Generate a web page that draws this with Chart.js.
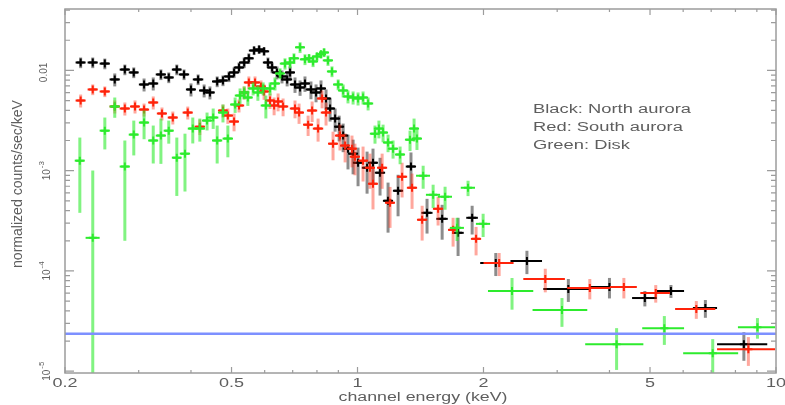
<!DOCTYPE html>
<html>
<head>
<meta charset="utf-8">
<script src="https://cdn.jsdelivr.net/npm/chart.js@4.4.0/dist/chart.umd.min.js"></script>
<style>
  html, body { margin: 0; padding: 0; background: #fff; }
  #wrap { width: 785px; height: 405px; position: relative; }
</style>
</head>
<body>
<div id="wrap"><canvas id="c" width="785" height="405"></canvas></div>
<script>
// ---- North aurora (black): channel energy (keV), half bin width, counts/s/keV, 1-sigma error
const northE = [0.218,0.233,0.249,0.263,0.278,0.292,0.309,0.325,0.339,0.354,0.370,0.385,0.400,0.416,0.430,0.444,0.462,0.477,0.493,0.507,0.521,0.536,0.550,0.566,0.582,0.598,0.611,0.625,0.642,0.660,0.679,0.690,0.709,0.729,0.749,0.774,0.796,0.818,0.841,0.860,0.884,0.904,0.924,0.949,0.976,1.003,1.054,1.089,1.132,1.183,1.250,1.342,1.466,1.593,1.739,1.879,2.14,2.54,3.19,4.00,4.86,5.61,6.78,8.38];
const northDE = [0.006,0.0065,0.007,0.0074,0.0078,0.008,0.0087,0.009,0.0095,0.0099,0.010,0.011,0.011,0.012,0.012,0.012,0.013,0.013,0.014,0.014,0.015,0.015,0.015,0.016,0.016,0.017,0.017,0.017,0.018,0.018,0.019,0.019,0.020,0.020,0.021,0.022,0.022,0.023,0.024,0.024,0.025,0.025,0.026,0.027,0.027,0.028,0.030,0.030,0.032,0.033,0.035,0.038,0.045,0.050,0.055,0.060,0.176,0.22,0.41,0.41,0.33,0.42,0.45,1.15];
const northV = [0.0120,0.0120,0.0117,0.00813,0.0102,0.00955,0.00724,0.00741,0.00912,0.00851,0.0102,0.00912,0.00646,0.00813,0.00631,0.00603,0.00776,0.00794,0.00871,0.00955,0.0107,0.0120,0.0132,0.0158,0.0162,0.0155,0.0120,0.0107,0.00955,0.00871,0.00813,0.00955,0.00724,0.00676,0.00741,0.00646,0.00603,0.00661,0.00525,0.00417,0.00331,0.00275,0.00224,0.00166,0.00148,0.00120,0.00107,0.00120,0.000955,0.000501,0.000631,0.00110,0.000380,0.000331,0.000240,0.000339,0.000120,0.000126,6.61e-5,6.92e-5,5.37e-5,6.31e-5,4.27e-5,1.86e-5];
const northErr = [0.00146,0.00146,0.00143,0.00120,0.00124,0.00117,0.00107,0.00110,0.00111,0.00104,0.00124,0.00111,0.00096,0.00099,0.00093,0.00089,0.00095,0.00097,0.00106,0.00117,0.00131,0.00146,0.00161,0.00156,0.00156,0.00149,0.00146,0.00131,0.00141,0.00129,0.00120,0.00141,0.00127,0.00118,0.00130,0.00130,0.00122,0.00134,0.00121,0.00108,0.00086,0.00079,0.00071,0.00063,0.00056,0.00050,0.00048,0.00046,0.00039,0.00026,0.00028,0.00042,0.000144,0.000126,0.000099,0.000108,3.1e-5,3.3e-5,1.7e-5,1.6e-5,0.94e-5,0.93e-5,0.86e-5,0.59e-5];

// ---- South aurora (red)
const southE = [0.218,0.233,0.249,0.263,0.278,0.294,0.309,0.325,0.341,0.362,0.393,0.420,0.477,0.490,0.507,0.521,0.536,0.550,0.569,0.588,0.598,0.618,0.632,0.646,0.664,0.709,0.725,0.762,0.779,0.805,0.823,0.841,0.874,0.908,0.934,0.970,0.986,1.031,1.071,1.089,1.145,1.196,1.278,1.350,1.427,1.558,1.692,1.920,2.18,2.81,3.59,4.33,5.16,6.45,8.59];
const southDE = [0.006,0.0065,0.007,0.0074,0.0078,0.008,0.0087,0.009,0.0095,0.010,0.011,0.012,0.013,0.014,0.014,0.015,0.015,0.015,0.016,0.016,0.017,0.017,0.018,0.018,0.019,0.020,0.020,0.021,0.022,0.023,0.023,0.024,0.024,0.025,0.026,0.027,0.028,0.029,0.030,0.030,0.032,0.033,0.036,0.038,0.040,0.044,0.047,0.054,0.18,0.32,0.42,0.32,0.42,0.71,1.36];
const southV = [0.00501,0.00646,0.00617,0.00437,0.00417,0.00437,0.00407,0.00479,0.00372,0.00339,0.00380,0.00275,0.00398,0.00355,0.00309,0.00447,0.00603,0.00759,0.00759,0.00692,0.00617,0.00501,0.00447,0.00490,0.00437,0.00417,0.00380,0.00288,0.00398,0.00263,0.00525,0.00380,0.00186,0.00224,0.00178,0.00166,0.00138,0.00126,0.00107,0.000741,0.00107,0.000479,0.000871,0.000676,0.000324,0.000417,0.000257,0.000209,0.000120,8.32e-5,6.76e-5,6.92e-5,6.03e-5,4.17e-5,1.66e-5];
const southErr = [0.00074,0.00079,0.00075,0.00065,0.00062,0.00065,0.00060,0.00071,0.00055,0.00050,0.00056,0.00048,0.00059,0.00062,0.00062,0.00066,0.00089,0.00112,0.00112,0.00102,0.00108,0.00088,0.00090,0.00099,0.00088,0.00084,0.00087,0.00066,0.00092,0.00068,0.00106,0.00098,0.00059,0.00065,0.00057,0.00058,0.00048,0.00048,0.00041,0.00033,0.00041,0.00021,0.00033,0.00026,0.000123,0.000133,0.000082,0.000066,3.1e-5,2.2e-5,1.55e-5,1.6e-5,1.2e-5,0.84e-5,0.53e-5];

// ---- Disk (green)
const diskE = [0.217,0.233,0.249,0.263,0.278,0.292,0.309,0.325,0.339,0.354,0.370,0.387,0.404,0.420,0.437,0.452,0.462,0.477,0.490,0.510,0.524,0.536,0.547,0.563,0.578,0.595,0.604,0.618,0.635,0.653,0.671,0.690,0.705,0.729,0.749,0.766,0.783,0.800,0.818,0.832,0.850,0.869,0.899,0.924,0.949,0.976,1.003,1.031,1.060,1.101,1.125,1.151,1.183,1.216,1.264,1.335,1.365,1.387,1.435,1.516,1.619,1.729,1.837,1.996,2.34,3.08,4.16,5.41,7.06,9.03];
const diskDE = [0.006,0.009,0.007,0.0074,0.0078,0.008,0.0087,0.009,0.0095,0.0099,0.010,0.011,0.011,0.012,0.012,0.013,0.013,0.013,0.014,0.014,0.015,0.015,0.015,0.016,0.016,0.017,0.017,0.017,0.018,0.018,0.019,0.019,0.020,0.020,0.021,0.021,0.022,0.022,0.023,0.023,0.024,0.024,0.025,0.026,0.027,0.027,0.028,0.029,0.030,0.031,0.031,0.032,0.033,0.034,0.035,0.037,0.038,0.039,0.055,0.059,0.063,0.067,0.072,0.078,0.29,0.46,0.66,0.62,1.06,0.92];
const diskV = [0.00126,0.000214,0.00251,0.00437,0.00110,0.00229,0.00302,0.00200,0.00224,0.00251,0.00135,0.00148,0.00263,0.00263,0.00316,0.00339,0.00200,0.00380,0.00209,0.00457,0.00562,0.00603,0.00537,0.00661,0.00603,0.00661,0.00447,0.00661,0.00741,0.00933,0.0117,0.0120,0.0132,0.0170,0.0129,0.0132,0.0123,0.0138,0.0145,0.0151,0.0126,0.00977,0.00724,0.00631,0.00550,0.00537,0.00525,0.00537,0.00468,0.00234,0.00263,0.00240,0.00191,0.00166,0.00145,0.00204,0.00263,0.00209,0.000891,0.000575,0.000550,0.000269,0.000676,0.000295,6.31e-5,4.07e-5,1.86e-5,2.69e-5,1.51e-5,2.75e-5];
const diskErr = [0.00088,0.00079,0.00088,0.00100,0.00090,0.00087,0.00096,0.00082,0.00107,0.00065,0.00079,0.00086,0.00076,0.00068,0.00064,0.00078,0.00082,0.00077,0.00073,0.00080,0.00099,0.00089,0.00094,0.00098,0.00105,0.00098,0.00115,0.00098,0.00110,0.00117,0.0015,0.0015,0.0016,0.0021,0.0016,0.0013,0.0015,0.0013,0.0013,0.0015,0.0015,0.0012,0.00089,0.00093,0.00081,0.00080,0.00078,0.00080,0.00069,0.00048,0.00053,0.00048,0.00038,0.00034,0.00029,0.00047,0.00068,0.00048,0.00023,0.00015,0.000142,0.000070,0.000118,0.000077,2.2e-5,1.3e-5,0.83e-5,0.86e-5,0.58e-5,0.64e-5];

// ---- constant background level (blue line)
const backgroundLevel = 2.37e-5;

// ---- axes
const xRange = [0.2, 10];
const yRange = [9.6e-6, 0.041];
const xTickValues = [0.2, 0.5, 1, 2, 5, 10];
const xTickLabels = ['0.2', '0.5', '1', '2', '5', '10'];
const yTickValues = [1e-2, 1e-3, 1e-4, 1e-5];
const yTickLabels = [['0.01', ''], ['10', '-3'], ['10', '-4'], ['10', '-5']];
const xTitle = 'channel energy (keV)';
const yTitle = 'normalized counts/sec/keV';
const legendLines = ['Black: North aurora', 'Red: South aurora', 'Green: Disk'];

const FONT = '"Liberation Sans", Arial, Helvetica, sans-serif';
const TEXT = '#5e5e5e';
const AXIS = '#9c9c9c';

const series = [
  { E: northE, dE: northDE, V: northV, S: northErr, rgb: '0,0,0',      va: 0.45, ha: 1.0 },
  { E: southE, dE: southDE, V: southV, S: southErr, rgb: '255,35,10',  va: 0.40, ha: 1.0 },
  { E: diskE,  dE: diskDE,  V: diskV,  S: diskErr,  rgb: '45,235,45',  va: 0.60, ha: 1.0 }
];

function points(E, V) { return E.map((e, i) => ({ x: e, y: V[i] })); }

// Error bars for each spectrum, drawn just before that spectrum's markers
const errorBars = {
  id: 'errorBars',
  beforeDatasetDraw(chart, args) {
    const s = series[args.index];
    if (!s) return;
    const { ctx, chartArea: a, scales: { x, y } } = chart;
    ctx.save();
    ctx.beginPath();
    ctx.rect(a.left, a.top, a.right - a.left, a.bottom - a.top);
    ctx.clip();
    for (let i = 0; i < s.E.length; i++) {
      const px = x.getPixelForValue(s.E[i]);
      const py = y.getPixelForValue(s.V[i]);
      const lo = s.V[i] - s.S[i];
      const yLo = lo > 0 ? y.getPixelForValue(lo) : a.bottom + 5;
      const yHi = y.getPixelForValue(s.V[i] + s.S[i]);
      ctx.strokeStyle = 'rgba(' + s.rgb + ',' + s.va + ')';
      ctx.lineWidth = 3;
      ctx.beginPath(); ctx.moveTo(px, yLo); ctx.lineTo(px, yHi); ctx.stroke();
      const xLo = x.getPixelForValue(s.E[i] - s.dE[i]);
      const xHi = x.getPixelForValue(s.E[i] + s.dE[i]);
      ctx.strokeStyle = 'rgba(' + s.rgb + ',' + s.ha + ')';
      ctx.lineWidth = 2;
      ctx.beginPath(); ctx.moveTo(xLo, py); ctx.lineTo(xHi, py); ctx.stroke();
    }
    ctx.restore();
  }
};

function stretchText(ctx, str, cx, cy, sx, align) {
  ctx.save();
  ctx.translate(cx, cy);
  ctx.scale(sx, 1);
  ctx.textAlign = align || 'center';
  ctx.textBaseline = 'middle';
  ctx.fillText(str, 0, 0);
  ctx.restore();
}

// Frame, inward tick marks, tick labels, axis titles and the key text
const frame = {
  id: 'frame',
  afterDraw(chart) {
    const { ctx, chartArea: a, scales: { x, y } } = chart;
    ctx.save();
    ctx.strokeStyle = AXIS;
    ctx.lineWidth = 1.5;
    ctx.strokeRect(a.left, a.top, a.right - a.left, a.bottom - a.top);

    ctx.lineWidth = 1.2;
    const near = (v, arr) => arr.some(t => Math.abs(t - v) / t < 1e-6);
    // x ticks, bottom and top
    for (let d = -1; d <= 1; d++) {
      for (let m = 1; m <= 9; m++) {
        const v = m * Math.pow(10, d);
        if (v < xRange[0] * 0.999 || v > xRange[1] * 1.001) continue;
        const px = x.getPixelForValue(v);
        const len = near(v, xTickValues) ? 6 : 3;
        ctx.beginPath();
        ctx.moveTo(px, a.bottom); ctx.lineTo(px, a.bottom - len);
        ctx.moveTo(px, a.top); ctx.lineTo(px, a.top + len);
        ctx.stroke();
      }
    }
    // y ticks, left and right
    for (let d = -6; d <= -1; d++) {
      for (let m = 1; m <= 9; m++) {
        const v = m * Math.pow(10, d);
        if (v < yRange[0] || v > yRange[1]) continue;
        const py = y.getPixelForValue(v);
        const len = m === 1 ? 9 : 5;
        ctx.beginPath();
        ctx.moveTo(a.left, py); ctx.lineTo(a.left + len, py);
        ctx.moveTo(a.right, py); ctx.lineTo(a.right - len, py);
        ctx.stroke();
      }
    }

    ctx.fillStyle = TEXT;
    // x tick labels
    ctx.font = '12px ' + FONT;
    xTickValues.forEach((v, i) => {
      stretchText(ctx, xTickLabels[i], x.getPixelForValue(v), a.bottom + 11, 1.5);
    });

    // y tick labels, rotated, with exponent as superscript
    yTickValues.forEach((v, i) => {
      const [base, sup] = yTickLabels[i];
      const py = y.getPixelForValue(v) + (sup ? 0 : 2);
      ctx.save();
      ctx.translate(sup ? 47 : 44, py);
      ctx.rotate(-Math.PI / 2);
      ctx.textAlign = 'left';
      ctx.textBaseline = 'middle';
      ctx.font = '10px ' + FONT;
      const wb = ctx.measureText(base).width;
      ctx.font = '8px ' + FONT;
      const ws = sup ? ctx.measureText(sup).width + 1 : 0;
      const start = -(wb + ws) / 2;
      ctx.font = '10px ' + FONT;
      ctx.fillText(base, start, 0);
      if (sup) {
        ctx.font = '8px ' + FONT;
        ctx.fillText(sup, start + wb + 1, -5);
      }
      ctx.restore();
    });

    // axis titles
    ctx.font = '12px ' + FONT;
    const wx = ctx.measureText(xTitle).width;
    stretchText(ctx, xTitle, 423, 398, 169 / wx);

    ctx.save();
    ctx.translate(18, 184);
    ctx.rotate(-Math.PI / 2);
    ctx.font = '12px ' + FONT;
    const wy = ctx.measureText(yTitle).width;
    ctx.scale(168 / wy, 1.15);
    ctx.textAlign = 'center';
    ctx.textBaseline = 'middle';
    ctx.fillText(yTitle, 0, 0);
    ctx.restore();

    // key text
    ctx.font = '12px ' + FONT;
    const wl = ctx.measureText(legendLines[0]).width;
    const sl = 158 / wl;
    legendLines.forEach((t, i) => {
      stretchText(ctx, t, 533, 110 + i * 18, sl, 'left');
    });
    ctx.restore();
  }
};

const marker = { pointStyle: 'cross', pointRadius: 4, pointBorderWidth: 2, showLine: false };

new Chart(document.getElementById('c'), {
  type: 'scatter',
  data: {
    datasets: [
      Object.assign({ label: 'North aurora', data: points(northE, northV), borderColor: '#000', backgroundColor: '#000', order: 4 }, marker),
      Object.assign({ label: 'South aurora', data: points(southE, southV), borderColor: 'rgb(255,35,10)', backgroundColor: 'rgb(255,35,10)', order: 3 }, marker),
      Object.assign({ label: 'Disk', data: points(diskE, diskV), borderColor: 'rgb(45,235,45)', backgroundColor: 'rgb(45,235,45)', order: 2 }, marker),
      {
        type: 'line', label: 'Background',
        data: [{ x: xRange[0], y: backgroundLevel }, { x: xRange[1], y: backgroundLevel }],
        borderColor: '#7d90ff', borderWidth: 2.5, pointRadius: 0, order: 1
      }
    ]
  },
  options: {
    responsive: false,
    animation: false,
    devicePixelRatio: 1,
    events: [],
    layout: { padding: { left: 65, top: 9, right: 9, bottom: 32 } },
    plugins: { legend: { display: false }, tooltip: { enabled: false } },
    scales: {
      x: { type: 'logarithmic', min: xRange[0], max: xRange[1], display: false },
      y: { type: 'logarithmic', min: yRange[0], max: yRange[1], display: false }
    }
  },
  plugins: [errorBars, frame]
});
</script>
</body>
</html>
